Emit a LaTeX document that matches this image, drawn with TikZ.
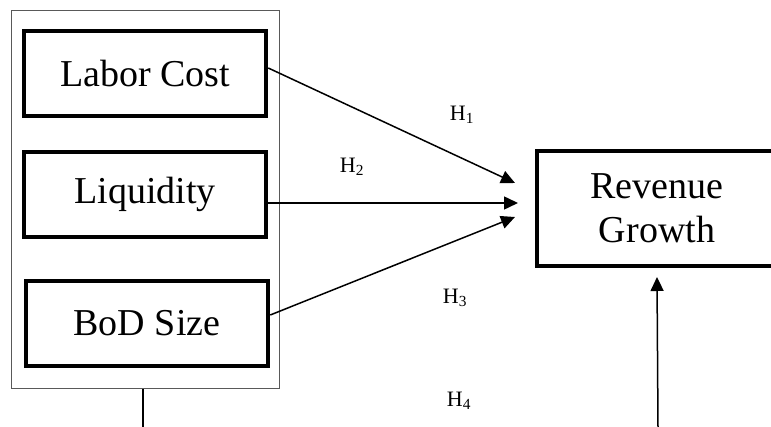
\documentclass[tikz,border=0pt]{standalone}
\usepackage{fontspec}
\setmainfont{Liberation Serif}
\usepackage{tikz}
\usetikzlibrary{positioning,arrows.meta}

\begin{document}
\begin{tikzpicture}[
			x=1pt, y=-1pt,
			var/.style = {draw, line width=4.5pt, rectangle, minimum width=242pt, minimum height=85pt, font=\fontsize{38}{44}\selectfont, align=center},
			group/.style = {draw=black!65, line width=1pt, rectangle, inner sep=0pt},
			hyp/.style = {font=\fontsize{22}{24}\selectfont, inner sep=0pt},
			link/.style = {line width=1.5pt, -{Triangle[length=14pt, width=13pt]}}
		]
		\clip (0,0) rectangle (771,427);
		% Independent variables.
		\node[group, minimum width=268pt, minimum height=378pt] (grp) at (145,200) {};
		\node[var] (lc) at (145,73.5) {Labor Cost};
		\node[var] (liq) at (145,194.5) {Liquidity};
		\node[var] (bod) at (147,323.5) {BoD Size};
		% Dependent variable.
		\node[var, minimum width=240pt, minimum height=115pt] (rg) at (657,208.5) {Revenue\\Growth};
		% Hypotheses.
		\node[hyp] (h1) at (462,115) {H\textsubscript{1}};
		\node[hyp] (h2) at (352,167) {H\textsubscript{2}};
		\node[hyp] (h3) at (455,298) {H\textsubscript{3}};
		\node[hyp] (h4) at (459,401) {H\textsubscript{4}};
		
		\coordinate (t1) at (515,183);
		\coordinate (t2) at (518,203);
		\coordinate (t3) at (515,217);
		\coordinate (t4) at (657,277);
		\coordinate (b1) at (143,427);
		\coordinate (b2) at (658,427);
		
		\draw[link] ([yshift=5.5pt]lc.east) to (t1);
		\draw[link] (liq.east |- t2) to (t2);
		\draw[link] ([yshift=8.5pt]bod.east) to (t3);
		\draw[link] (b2) to (t4);
		\draw[line width=1.5pt] (grp.south -| b1) to (b1);
	\end{tikzpicture}
\end{document}
